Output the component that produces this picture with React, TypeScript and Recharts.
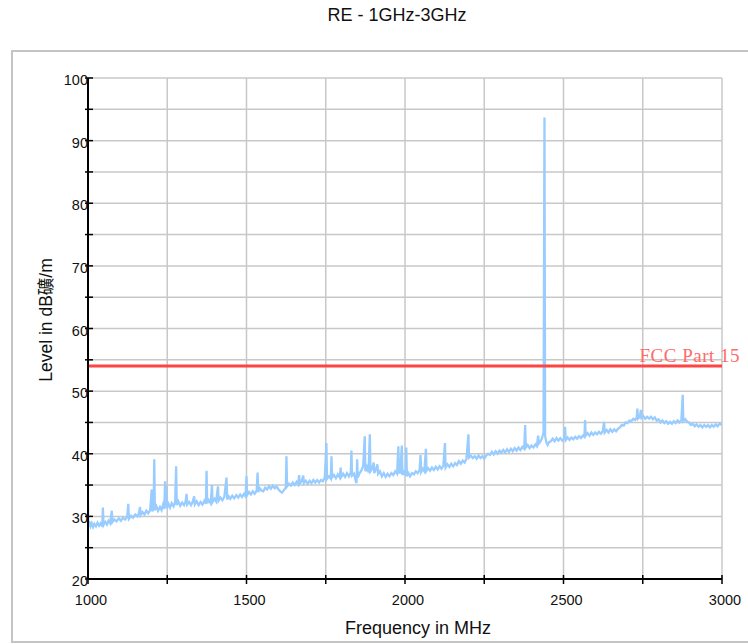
import React from 'react';
import { LineChart, Line, XAxis, YAxis, CartesianGrid, ReferenceLine } from 'recharts';

const TITLE = 'RE - 1GHz-3GHz';
const X_LABEL = 'Frequency in MHz';
const Y_LABEL = 'Level in dB礦/m';
const LIMIT_LABEL = 'FCC Part 15';
const LIMIT_VALUE = 54;

const xTicks = [1000, 1250, 1500, 1750, 2000, 2250, 2500, 2750, 3000];
const xLabelTicks = [1000, 1500, 2000, 2500, 3000];
const yTicks = [20, 25, 30, 35, 40, 45, 50, 55, 60, 65, 70, 75, 80, 85, 90, 95, 100];
const yLabelTicks = [20, 30, 40, 50, 60, 70, 80, 90, 100];

const freqs = [
  1000, 1001, 1004, 1008, 1012, 1016, 1020, 1025, 1030, 1035, 1040, 1045, 1047, 1049, 1055, 1060, 1065, 1070, 1075, 1077,
  1083, 1090, 1097, 1104, 1110, 1117, 1124, 1127, 1129, 1136, 1142, 1149, 1156, 1161, 1164, 1166, 1172, 1178, 1184, 1190,
  1196, 1201, 1203, 1207, 1209, 1211, 1216, 1221, 1227, 1232, 1237, 1241, 1243, 1245, 1247, 1249, 1254, 1259, 1264, 1270,
  1275, 1278, 1280, 1285, 1291, 1297, 1303, 1308, 1311, 1313, 1319, 1325, 1330, 1335, 1337, 1343, 1349, 1355, 1361, 1367,
  1372, 1374, 1376, 1381, 1387, 1391, 1393, 1399, 1404, 1410, 1412, 1418, 1424, 1430, 1437, 1439, 1444, 1449, 1455, 1461,
  1468, 1474, 1480, 1486, 1492, 1497, 1500, 1502, 1508, 1514, 1520, 1526, 1532, 1535, 1537, 1542, 1548, 1553, 1559, 1565,
  1571, 1577, 1583, 1589, 1595, 1601, 1607, 1612, 1618, 1624, 1626, 1628, 1634, 1640, 1646, 1652, 1658, 1663, 1666, 1668,
  1674, 1679, 1681, 1687, 1693, 1699, 1705, 1711, 1717, 1723, 1729, 1735, 1741, 1747, 1752, 1754, 1760, 1766, 1768, 1770,
  1776, 1782, 1788, 1794, 1797, 1799, 1805, 1811, 1817, 1823, 1829, 1831, 1833, 1839, 1845, 1847, 1849, 1851, 1857, 1862,
  1868, 1873, 1875, 1880, 1885, 1889, 1891, 1896, 1901, 1903, 1908, 1913, 1915, 1921, 1927, 1933, 1939, 1945, 1951, 1957,
  1963, 1969, 1975, 1979, 1981, 1985, 1990, 1992, 1997, 2002, 2004, 2006, 2011, 2016, 2022, 2028, 2034, 2040, 2046, 2049,
  2051, 2056, 2061, 2066, 2068, 2073, 2079, 2085, 2091, 2097, 2103, 2109, 2115, 2121, 2126, 2128, 2134, 2140, 2146, 2152,
  2158, 2164, 2170, 2176, 2182, 2188, 2194, 2200, 2202, 2208, 2214, 2220, 2226, 2232, 2238, 2244, 2250, 2256, 2262, 2268,
  2274, 2280, 2286, 2292, 2298, 2304, 2310, 2316, 2322, 2328, 2334, 2340, 2346, 2352, 2358, 2364, 2370, 2376, 2379, 2381,
  2387, 2393, 2399, 2405, 2411, 2416, 2420, 2422, 2428, 2433, 2437, 2440, 2442, 2446, 2450, 2455, 2460, 2466, 2472, 2478,
  2484, 2490, 2496, 2502, 2505, 2507, 2513, 2519, 2525, 2531, 2537, 2543, 2549, 2555, 2561, 2566, 2568, 2570, 2576, 2582,
  2588, 2594, 2600, 2606, 2612, 2618, 2624, 2628, 2630, 2636, 2642, 2648, 2654, 2660, 2666, 2672, 2678, 2684, 2690, 2696,
  2702, 2708, 2714, 2720, 2726, 2731, 2733, 2735, 2741, 2744, 2746, 2752, 2758, 2764, 2770, 2776, 2782, 2788, 2794, 2800,
  2806, 2812, 2818, 2824, 2830, 2836, 2842, 2848, 2854, 2860, 2866, 2872, 2876, 2878, 2884, 2890, 2896, 2902, 2908, 2914,
  2920, 2926, 2932, 2938, 2944, 2950, 2956, 2962, 2968, 2974, 2980, 2986, 2992, 3000,
];

const levels = [
  32.2, 28.6, 29.2, 28.4, 28.9, 28.3, 28.8, 28.4, 29.0, 28.5, 28.9, 28.4, 31.4, 28.6, 29.1, 28.7, 29.3, 28.9, 30.9, 29.1,
  29.5, 29.2, 29.7, 29.3, 29.8, 29.5, 30.0, 32.0, 29.6, 30.1, 29.8, 30.3, 30.0, 30.6, 31.5, 30.2, 30.7, 30.3, 30.9, 30.5,
  31.0, 34.3, 30.8, 31.3, 39.1, 31.0, 31.6, 30.9, 31.5, 31.0, 31.9, 31.2, 35.6, 31.6, 34.9, 31.3, 32.0, 31.4, 32.1, 31.6,
  32.3, 38.0, 31.8, 32.4, 31.7, 32.2, 31.8, 32.4, 33.6, 31.9, 32.3, 31.8, 32.3, 33.2, 31.9, 32.4, 31.8, 32.3, 31.9, 32.5,
  32.0, 37.3, 32.1, 32.6, 32.1, 35.0, 32.3, 32.8, 32.4, 34.8, 32.5, 33.0, 32.6, 33.1, 36.2, 32.7, 33.2, 32.8, 33.3, 32.9,
  33.4, 33.0, 33.5, 33.1, 33.6, 33.2, 36.4, 33.4, 33.9, 33.5, 34.0, 33.6, 34.1, 37.0, 33.9, 34.5, 34.1, 34.0, 34.6, 34.3,
  34.8, 34.4, 34.9, 34.5, 34.8, 34.3, 34.0, 33.8, 34.2, 34.6, 39.6, 34.8, 35.2, 34.9, 35.4, 35.0, 35.5, 35.1, 36.6, 35.2,
  35.6, 36.5, 35.3, 35.7, 35.2, 35.7, 35.3, 35.8, 35.4, 35.8, 35.4, 35.8, 35.6, 36.2, 41.7, 36.0, 36.4, 36.0, 39.6, 36.2,
  36.6, 36.1, 36.7, 36.2, 37.8, 36.3, 36.8, 36.3, 36.9, 36.4, 37.0, 40.5, 36.5, 36.8, 35.6, 35.3, 39.1, 36.2, 36.9, 37.3,
  38.0, 42.8, 37.2, 37.9, 37.0, 43.1, 37.2, 37.6, 38.6, 36.9, 37.5, 38.3, 36.8, 37.2, 36.4, 36.9, 36.3, 36.8, 36.4, 36.9,
  36.6, 37.2, 36.8, 41.2, 37.0, 37.0, 41.3, 36.6, 37.1, 36.5, 41.0, 36.4, 36.9, 36.4, 36.9, 36.7, 37.2, 36.9, 37.4, 39.8,
  37.1, 37.6, 37.2, 40.8, 37.3, 37.7, 37.3, 37.8, 37.4, 37.9, 37.5, 38.0, 37.6, 38.1, 41.7, 37.8, 38.3, 37.9, 38.4, 38.0,
  38.5, 38.2, 38.8, 38.4, 38.9, 38.6, 39.2, 43.1, 39.4, 39.7, 39.3, 39.6, 39.2, 39.7, 39.3, 39.6, 39.2, 39.7, 40.0, 39.8,
  40.3, 39.9, 40.4, 40.0, 40.5, 40.2, 40.6, 40.2, 40.7, 40.3, 40.8, 40.4, 40.9, 40.5, 41.0, 40.6, 41.1, 40.8, 44.6, 41.0,
  41.4, 40.9, 41.3, 41.0, 41.5, 41.2, 42.9, 41.6, 42.0, 42.6, 43.4, 93.7, 42.8, 41.8, 41.4, 41.9, 42.0, 42.4, 42.0, 42.5,
  42.1, 42.5, 42.1, 42.4, 44.3, 42.2, 42.6, 42.2, 42.6, 42.3, 42.7, 42.4, 42.8, 42.5, 42.9, 42.7, 45.4, 42.9, 43.3, 42.9,
  43.4, 43.0, 43.4, 43.1, 43.5, 43.2, 43.6, 45.1, 43.4, 43.8, 43.4, 43.9, 43.5, 43.9, 43.6, 44.0, 44.2, 44.6, 44.5, 45.0,
  44.9, 45.3, 45.2, 45.6, 45.4, 45.8, 47.2, 45.6, 45.9, 47.0, 45.7, 46.0, 45.6, 45.9, 45.6, 45.9, 45.5, 45.8, 45.3, 45.5,
  45.0, 45.3, 44.9, 45.2, 44.8, 45.1, 44.8, 45.2, 44.9, 45.3, 45.0, 45.4, 49.4, 45.2, 45.5, 45.1, 45.0, 44.6, 44.8, 44.4,
  44.7, 44.3, 44.6, 44.2, 44.6, 44.3, 44.6, 44.2, 44.6, 44.3, 44.7, 44.4, 44.8, 44.6,
];

const data = freqs.map((f, i) => ({ f, v: levels[i] }));

const YTick = (props: any) => {
  const { x, y, payload } = props;
  const v = payload.value;
  return (
    <g>
      <line x1={x - 3} x2={x + 5} y1={y} y2={y} stroke="#000" strokeWidth={1.5} />
      {yLabelTicks.includes(v) && (
        <text x={x} y={y + 7} textAnchor="end" fontFamily="Arial, 'Liberation Sans', sans-serif" fontSize={14.5} fill="#111">
          {v}
        </text>
      )}
    </g>
  );
};

const XTick = (props: any) => {
  const { x, y, payload } = props;
  const v = payload.value;
  return (
    <g>
      <line x1={x} x2={x} y1={y - 4} y2={y + 5} stroke="#000" strokeWidth={1.5} />
      {xLabelTicks.includes(v) && (
        <text x={x + 3} y={y + 26} textAnchor="middle" fontFamily="Arial, 'Liberation Sans', sans-serif" fontSize={14.5} fill="#111">
          {v}
        </text>
      )}
    </g>
  );
};

const LimitLabel = (props: any) => {
  const vb = props.viewBox || {};
  const right = (vb.x || 0) + (vb.width || 0);
  return (
    <text
      x={right + 18}
      y={(vb.y || 0) - 4}
      textAnchor="end"
      fontFamily="'Liberation Serif', 'Times New Roman', serif"
      fontSize={19}
      letterSpacing={0.5}
      fill="#ff6a6a"
    >
      {LIMIT_LABEL}
    </text>
  );
};

export default function App() {
  return (
    <div style={{ position: 'absolute', left: 0, top: 0, width: 748, height: 644, background: '#fff' }}>
      <svg width={748} height={644} style={{ position: 'absolute', left: 0, top: 0 }}>
        <rect x={12} y={51} width={760} height={591} fill="none" stroke="#c4c4c4" strokeWidth={2} />
        <text x={397} y={21} textAnchor="middle" fontFamily="Arial, 'Liberation Sans', sans-serif" fontSize={18} fill="#111">
          {TITLE}
        </text>
        <text x={418} y={634} textAnchor="middle" fontFamily="Arial, 'Liberation Sans', sans-serif" fontSize={18} fill="#111">
          {X_LABEL}
        </text>
        <text
          x={0}
          y={0}
          transform="translate(52,320) rotate(-90)"
          textAnchor="middle"
          fontFamily="Arial, 'Liberation Sans', 'Noto Sans CJK SC', sans-serif"
          fontSize={17.5}
          fill="#111"
        >
          {Y_LABEL}
        </text>
      </svg>
      <div style={{ position: 'absolute', left: 0, top: 0 }}>
        <LineChart width={748} height={644} data={data} margin={{ top: 78, right: 26, bottom: 35, left: 28 }}>
          <CartesianGrid stroke="#c8c8c8" strokeWidth={1.5} />
          <XAxis
            type="number"
            dataKey="f"
            domain={[1000, 3000]}
            ticks={xTicks}
            interval={0}
            height={30}
            tickSize={0}
            tickMargin={0}
            tickLine={false}
            tick={<XTick />}
            axisLine={{ stroke: '#000', strokeWidth: 2 }}
            allowDataOverflow
          />
          <YAxis
            type="number"
            domain={[20, 100]}
            ticks={yTicks}
            interval={0}
            width={60}
            tickSize={0}
            tickMargin={0}
            tickLine={false}
            tick={<YTick />}
            axisLine={{ stroke: '#000', strokeWidth: 2 }}
            allowDataOverflow
          />
          <Line type="linear" dataKey="v" stroke="#99ccff" strokeWidth={2.3} strokeLinejoin="miter" dot={false} isAnimationActive={false} />
          <ReferenceLine y={LIMIT_VALUE} stroke="#ff4444" strokeWidth={3} label={<LimitLabel />} ifOverflow="visible" />
        </LineChart>
      </div>
    </div>
  );
}
